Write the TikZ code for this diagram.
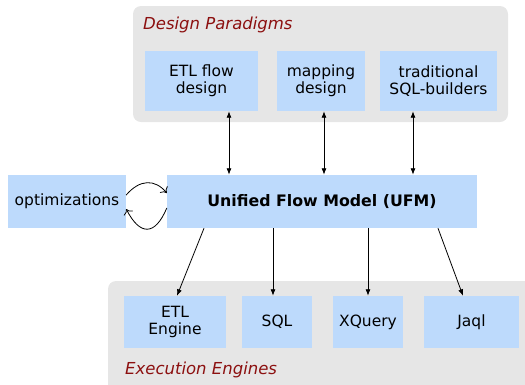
\documentclass[tikz,border=0pt]{standalone}
\usepackage{fontspec}
\setmainfont{DejaVu Sans}
\usetikzlibrary{arrows.meta}
\definecolor{boxblue}{RGB}{189,218,252}
\definecolor{panelgray}{RGB}{230,230,230}
\definecolor{titlered}{RGB}{140,16,16}
\begin{document}
\begin{tikzpicture}[x=1pt,y=-1pt,
  bluebox/.style={fill=boxblue,draw=none,inner sep=0pt,align=center,
    font=\fontsize{15.5}{17}\selectfont},
  paneltitle/.style={text=titlered,font=\fontsize{16.5}{19}\selectfont\itshape,anchor=west,inner sep=0pt},
  biarrow/.style={{Latex[length=6.5pt,width=5pt]}-{Latex[length=6.5pt,width=5pt]},line width=0.8pt},
  onearrow/.style={-{Latex[length=6.5pt,width=5pt]},line width=0.8pt},
  curvearrow/.style={-{To[length=5pt,width=10pt]},line width=0.8pt}]
\useasboundingbox (0,0) rectangle (525,384);
% panels
\fill[panelgray,rounded corners=8pt] (133,6) rectangle (508,122);
\fill[panelgray,rounded corners=8pt] (108,281) rectangle (540,400);
\node[paneltitle] (dp) at (143,25) {Design Paradigms};
\node[paneltitle] (ee) at (125,370) {Execution Engines};
% top boxes
\node[bluebox,minimum width=113pt,minimum height=60pt] (etl) at (201.5,81) {ETL flow\\design};
\node[bluebox,minimum width=88pt,minimum height=60pt] (map) at (321,81) {mapping\\design};
\node[bluebox,minimum width=117pt,minimum height=60pt] (trad) at (438.5,81) {traditional\\SQL-builders};
% middle
\node[bluebox,minimum width=118pt,minimum height=53pt] (opt) at (67,201.5) {optimizations};
\node[bluebox,minimum width=310pt,minimum height=53pt,font=\fontsize{15.8}{17}\selectfont\bfseries] (ufm) at (322,201.5) {Unified Flow Model (UFM)};
% bottom boxes
\node[bluebox,minimum width=102pt,minimum height=52pt] (etle) at (175,322) {ETL\\Engine};
\node[bluebox,minimum width=70pt,minimum height=52pt] (sql) at (277,322) {SQL};
\node[bluebox,minimum width=70pt,minimum height=52pt] (xq) at (368,322) {XQuery};
\node[bluebox,minimum width=95pt,minimum height=52pt] (jaql) at (471.5,322) {Jaql};
% top arrows
\draw[biarrow] (etl.south -| 229,0) -- (ufm.north -| 229,0);
\draw[biarrow] (map.south -| 324,0) -- (ufm.north -| 324,0);
\draw[biarrow] (trad.south -| 413,0) -- (ufm.north -| 413,0);
% bottom arrows
\draw[onearrow] (ufm.south -| 204,0) -- (etle.north -| 177,0);
\draw[onearrow] (ufm.south -| 273,0) -- (sql.north -| 273,0);
\draw[onearrow] (ufm.south -| 368,0) -- (xq.north -| 368,0);
\draw[onearrow] (ufm.south -| 438,0) -- (jaql.north -| 463,0);
% curved arrows
\draw[curvearrow] (opt.east |- 0,195) .. controls (140,179) and (155,179) .. (ufm.west |- 0,193);
\draw[curvearrow] (ufm.west |- 0,208) .. controls (155,236) and (140,236) .. (opt.east |- 0,209);
\end{tikzpicture}
\end{document}
